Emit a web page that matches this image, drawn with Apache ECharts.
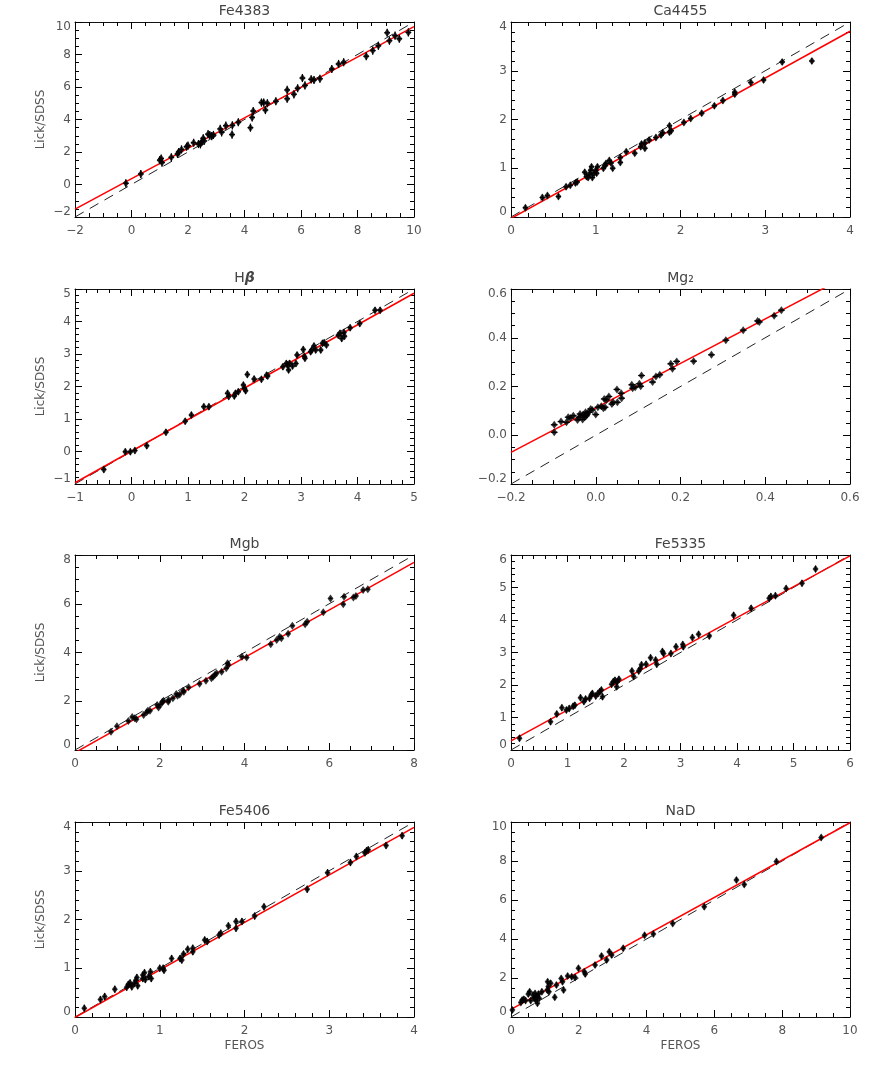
<!DOCTYPE html>
<html>
<head>
<meta charset="utf-8">
<script src="https://cdn.jsdelivr.net/npm/echarts@6/dist/echarts.min.js"></script>
<style>
  html, body { margin: 0; padding: 0; background: #fff; }
  #chart { width: 872px; height: 1065px; }
</style>
</head>
<body>
<div id="chart"></div>
<script>
// panel titles, axis ranges and fitted relations (Lick/SDSS vs FEROS)
const panelNames = ["Fe4383", "Ca4455", "H{b|β}", "Mg₂", "Mgb", "Fe5335", "Fe5406", "NaD"];
const axisMin = [-2, 0, -1, -0.2, 0, 0, 0, 0];
const axisMax = [10, 4, 5, 0.6, 8, 6, 4, 10];
const tickStep = [2, 1, 1, 0.2, 2, 1, 1, 2];
const minorSplit = [4, 5, 5, 4, 4, 5, 5, 4];
const fitIntercept = [0.36, -0.03, 0.01, 0.112, -0.11, 0.28, -0.01, 0.39];
const fitSlope = [0.935, 0.96, 0.972, 0.913, 0.976, 0.949, 0.975, 0.957];
const errX = [0.1, 0.03, 0.04, 0.008, 0.04, 0.03, 0.02, 0.05];
const errY = [0.25, 0.06, 0.1, 0.004, 0.04, 0.1, 0.07, 0.15];

// points: x = FEROS, y = Lick/SDSS
const fe4383X = [-0.2, 0.33, 1.0, 1.05, 1.08, 1.41, 1.63, 1.67, 1.77, 1.95, 2.0, 2.2, 2.37, 2.44, 2.49, 2.54, 2.57, 2.71, 2.77, 2.84, 2.9, 3.14, 3.19, 3.34, 3.56, 3.57, 3.78, 4.21, 4.27, 4.31, 4.6, 4.68, 4.74, 4.81, 5.11, 5.51, 5.51, 5.75, 5.88, 6.05, 6.14, 6.36, 6.46, 6.67, 7.09, 7.33, 7.51, 8.31, 8.54, 8.74, 9.05, 9.13, 9.33, 9.48, 9.8];
const fe4383Y = [0.07, 0.65, 1.5, 1.6, 1.35, 1.67, 1.88, 2.0, 2.16, 2.33, 2.39, 2.57, 2.49, 2.47, 2.64, 2.84, 2.68, 3.1, 3.05, 2.98, 3.05, 3.42, 3.21, 3.62, 3.07, 3.64, 3.83, 3.5, 4.13, 4.52, 5.04, 5.04, 4.58, 5.0, 5.12, 5.82, 5.28, 5.55, 5.92, 6.55, 6.1, 6.47, 6.43, 6.51, 7.11, 7.42, 7.52, 7.89, 8.24, 8.54, 9.34, 8.85, 9.16, 8.97, 9.36];

const ca4455X = [0.17, 0.37, 0.43, 0.56, 0.65, 0.70, 0.76, 0.78, 0.87, 0.89, 0.91, 0.93, 0.94, 0.95, 0.96, 0.98, 1.0, 1.01, 1.02, 1.09, 1.11, 1.12, 1.16, 1.18, 1.2, 1.29, 1.29, 1.36, 1.46, 1.53, 1.54, 1.58, 1.58, 1.63, 1.71, 1.77, 1.79, 1.87, 1.87, 1.89, 2.04, 2.12, 2.25, 2.4, 2.5, 2.64, 2.64, 2.83, 2.98, 3.2, 3.55];
const ca4455Y = [0.19, 0.40, 0.44, 0.42, 0.62, 0.65, 0.70, 0.72, 0.92, 0.83, 0.81, 0.88, 0.96, 1.03, 0.81, 0.9, 0.96, 0.9, 1.03, 1.0, 1.05, 1.1, 1.16, 1.11, 1.0, 1.12, 1.22, 1.34, 1.31, 1.44, 1.5, 1.41, 1.52, 1.58, 1.63, 1.68, 1.73, 1.87, 1.74, 1.77, 1.94, 2.02, 2.13, 2.28, 2.39, 2.52, 2.56, 2.76, 2.81, 3.18, 3.2];

const hbetaX = [-0.49, -0.11, -0.02, 0.06, 0.27, 0.61, 0.95, 1.06, 1.28, 1.37, 1.7, 1.72, 1.82, 1.84, 1.89, 1.98, 2.0, 2.02, 2.05, 2.17, 2.3, 2.39, 2.41, 2.68, 2.74, 2.76, 2.78, 2.8, 2.85, 2.91, 2.93, 3.04, 3.06, 3.07, 3.17, 3.19, 3.23, 3.26, 3.35, 3.38, 3.41, 3.45, 3.66, 3.69, 3.72, 3.76, 3.77, 3.87, 4.04, 4.31, 4.4];
const hbetaY = [-0.55, -0.01, -0.01, 0.03, 0.18, 0.59, 0.93, 1.12, 1.38, 1.38, 1.79, 1.69, 1.71, 1.79, 1.84, 2.05, 1.94, 1.87, 2.37, 2.23, 2.22, 2.35, 2.32, 2.61, 2.71, 2.66, 2.51, 2.71, 2.63, 2.71, 2.97, 3.14, 2.92, 2.87, 3.07, 3.12, 3.25, 3.12, 3.12, 3.33, 3.35, 3.28, 3.58, 3.64, 3.48, 3.66, 3.55, 3.81, 3.94, 4.35, 4.35];

const mg2X = [-0.098, -0.098, -0.082, -0.069, -0.065, -0.06, -0.053, -0.043, -0.039, -0.037, -0.031, -0.03, -0.026, -0.024, -0.022, -0.02, -0.017, -0.012, -0.008, 0.0, 0.005, 0.013, 0.018, 0.022, 0.02, 0.025, 0.031, 0.038, 0.041, 0.05, 0.051, 0.06, 0.061, 0.085, 0.087, 0.093, 0.103, 0.106, 0.108, 0.134, 0.142, 0.151, 0.177, 0.181, 0.191, 0.231, 0.273, 0.307, 0.348, 0.382, 0.386, 0.421, 0.438];
const mg2Y = [0.043, 0.012, 0.056, 0.053, 0.074, 0.071, 0.08, 0.063, 0.074, 0.087, 0.065, 0.084, 0.074, 0.094, 0.08, 0.087, 0.094, 0.108, 0.104, 0.085, 0.115, 0.119, 0.111, 0.115, 0.149, 0.145, 0.159, 0.128, 0.135, 0.188, 0.135, 0.172, 0.152, 0.207, 0.193, 0.197, 0.211, 0.201, 0.245, 0.218, 0.241, 0.248, 0.293, 0.273, 0.303, 0.304, 0.33, 0.39, 0.431, 0.469, 0.465, 0.49, 0.513];

const mgbX = [0.85, 0.99, 1.26, 1.35, 1.41, 1.45, 1.62, 1.69, 1.72, 1.77, 1.94, 1.97, 2.02, 2.06, 2.09, 2.2, 2.21, 2.31, 2.39, 2.42, 2.47, 2.55, 2.57, 2.68, 2.94, 3.09, 3.22, 3.26, 3.3, 3.34, 3.46, 3.57, 3.6, 3.62, 3.94, 4.05, 4.62, 4.76, 4.83, 4.87, 5.03, 5.13, 5.43, 5.48, 5.86, 6.03, 6.33, 6.35, 6.57, 6.63, 6.8, 6.91];
const mgbY = [0.75, 0.97, 1.19, 1.35, 1.3, 1.26, 1.44, 1.55, 1.61, 1.61, 1.85, 1.74, 1.87, 1.98, 2.02, 1.98, 2.05, 2.12, 2.3, 2.23, 2.28, 2.43, 2.39, 2.57, 2.72, 2.84, 2.94, 3.01, 3.08, 3.15, 3.21, 3.35, 3.56, 3.49, 3.83, 3.79, 4.34, 4.51, 4.65, 4.58, 4.77, 5.1, 5.16, 5.26, 5.65, 6.22, 5.98, 6.29, 6.26, 6.32, 6.56, 6.6];

const fe5335X = [0.15, 0.7, 0.81, 0.9, 0.98, 1.03, 1.1, 1.13, 1.23, 1.29, 1.32, 1.39, 1.42, 1.44, 1.5, 1.54, 1.57, 1.6, 1.62, 1.78, 1.81, 1.84, 1.87, 1.88, 1.91, 2.14, 2.17, 2.26, 2.29, 2.31, 2.39, 2.47, 2.56, 2.58, 2.68, 2.7, 2.83, 2.92, 3.04, 3.05, 3.21, 3.32, 3.51, 3.94, 4.25, 4.57, 4.6, 4.68, 4.87, 5.15, 5.39];
const fe5335Y = [0.36, 0.87, 1.11, 1.3, 1.23, 1.28, 1.35, 1.38, 1.61, 1.49, 1.57, 1.59, 1.69, 1.74, 1.66, 1.74, 1.79, 1.85, 1.64, 2.02, 2.1, 2.15, 1.95, 2.1, 2.18, 2.43, 2.26, 2.43, 2.51, 2.62, 2.64, 2.84, 2.77, 2.64, 3.03, 2.97, 2.97, 3.18, 3.25, 3.18, 3.46, 3.56, 3.51, 4.15, 4.36, 4.67, 4.72, 4.75, 4.97, 5.13, 5.57];

const fe5406X = [0.11, 0.3, 0.35, 0.47, 0.61, 0.63, 0.65, 0.67, 0.7, 0.72, 0.73, 0.74, 0.8, 0.8, 0.82, 0.83, 0.87, 0.89, 0.9, 1.0, 1.04, 1.05, 1.14, 1.24, 1.26, 1.28, 1.33, 1.39, 1.39, 1.53, 1.56, 1.7, 1.72, 1.81, 1.9, 1.9, 1.97, 2.12, 2.23, 2.74, 2.98, 3.25, 3.32, 3.42, 3.44, 3.46, 3.67, 3.86];
const fe5406Y = [0.18, 0.36, 0.42, 0.57, 0.61, 0.67, 0.7, 0.62, 0.69, 0.76, 0.81, 0.64, 0.86, 0.79, 0.91, 0.77, 0.83, 0.93, 0.79, 1.0, 1.0, 0.96, 1.2, 1.2, 1.17, 1.29, 1.39, 1.41, 1.34, 1.58, 1.55, 1.68, 1.72, 1.87, 1.96, 1.82, 1.96, 2.07, 2.26, 2.62, 2.96, 3.17, 3.29, 3.37, 3.41, 3.43, 3.52, 3.72];

const nadX = [0.04, 0.29, 0.33, 0.38, 0.43, 0.51, 0.55, 0.58, 0.65, 0.68, 0.71, 0.73, 0.76, 0.78, 0.81, 0.83, 0.91, 1.07, 1.1, 1.12, 1.17, 1.08, 1.29, 1.34, 1.48, 1.52, 1.55, 1.67, 1.79, 1.89, 1.99, 2.16, 2.19, 2.48, 2.67, 2.82, 2.9, 2.97, 3.31, 3.94, 4.2, 4.77, 5.7, 6.65, 6.88, 7.83, 9.15];
const nadY = [0.36, 0.75, 0.87, 0.91, 0.84, 1.18, 1.3, 0.84, 1.13, 0.96, 1.21, 0.87, 1.04, 0.7, 1.18, 0.96, 1.3, 1.38, 1.56, 1.3, 1.73, 1.81, 1.01, 1.64, 1.98, 1.81, 1.38, 2.1, 2.07, 2.03, 2.5, 2.32, 2.2, 2.67, 3.13, 2.92, 3.35, 3.18, 3.52, 4.19, 4.26, 4.8, 5.66, 7.03, 6.8, 7.97, 9.2];

const pointsX = [fe4383X, ca4455X, hbetaX, mg2X, mgbX, fe5335X, fe5406X, nadX];
const pointsY = [fe4383Y, ca4455Y, hbetaY, mg2Y, mgbY, fe5335Y, fe5406Y, nadY];

const fontFamily = '"DejaVu Sans", sans-serif';
const textColor = "#555";
const boxColor = "#111";
const colLeft = [75, 511];
const rowTop = [22, 289, 555, 822];
const boxW = 339;
const boxH = 195;

function labelFormatter(i) {
  return (v) => {
    let s = i === 3 ? (Math.abs(v) < 1e-9 ? 0 : v).toFixed(1) : String(Math.round(v));
    return s.replace("-", "\u2212");
  };
}

function makeAxis(i, pos, withLabels) {
  const axis = {
    type: "value",
    gridIndex: i,
    position: pos,
    min: axisMin[i],
    max: axisMax[i],
    interval: tickStep[i],
    axisLine: { show: true, onZero: false, lineStyle: { color: boxColor, width: 1 } },
    axisTick: { show: true, inside: true, length: 7, lineStyle: { color: "#000", width: 1 } },
    minorTick: { show: true, splitNumber: minorSplit[i], length: 4, lineStyle: { color: "#000", width: 1 } },
    splitLine: { show: false },
    axisLabel: {
      show: withLabels,
      color: textColor,
      fontSize: 12,
      fontFamily: fontFamily,
      margin: 8,
      formatter: labelFormatter(i),
    },
  };
  if (pos === "left") {
    axis.axisLabel.margin = 4;
    axis.axisLabel.lineHeight = 10;
    axis.axisLabel.verticalAlignMaxLabel = "top";
    axis.axisLabel.verticalAlignMinLabel = "bottom";
  }
  return axis;
}

const grids = [];
const xAxes = [];
const yAxes = [];
const titles = [];
const series = [];

for (let i = 0; i < 8; i++) {
  const left = colLeft[i % 2];
  const top = rowTop[Math.floor(i / 2)];
  grids.push({ left: left, top: top, width: boxW, height: boxH });

  const xb = makeAxis(i, "bottom", true);
  if (i >= 6) {
    xb.name = "FEROS";
    xb.nameLocation = "middle";
    xb.nameGap = 23;
    xb.nameTextStyle = { color: textColor, fontSize: 12 };
  }
  const yl = makeAxis(i, "left", true);
  if (i % 2 === 0) {
    yl.name = "Lick/SDSS";
    yl.nameLocation = "middle";
    yl.nameGap = 28;
    yl.nameTextStyle = { color: textColor, fontSize: 12 };
  }
  xAxes.push(xb, makeAxis(i, "top", false));
  yAxes.push(yl, makeAxis(i, "right", false));

  titles.push({
    text: panelNames[i],
    left: left + boxW / 2,
    top: top - 18,
    textAlign: "center",
    padding: 0,
    textStyle: {
      color: "#444",
      fontSize: 14,
      fontWeight: "normal",
      rich: { b: { fontSize: 14, fontStyle: "italic", fontWeight: "bold", color: "#444" } },
    },
  });

  const lo = axisMin[i];
  const hi = axisMax[i];
  const xi = 2 * i;
  const yi = 2 * i;

  // one-to-one line
  series.push({
    type: "line",
    xAxisIndex: xi,
    yAxisIndex: yi,
    data: [[lo, lo], [hi, hi]],
    symbol: "none",
    silent: true,
    clip: true,
    lineStyle: { color: "#222", width: 1, type: [10, 7] },
    z: 2,
  });
  // fitted relation
  series.push({
    type: "line",
    xAxisIndex: xi,
    yAxisIndex: yi,
    data: [[lo, fitIntercept[i] + fitSlope[i] * lo], [hi, fitIntercept[i] + fitSlope[i] * hi]],
    symbol: "none",
    silent: true,
    clip: true,
    lineStyle: { color: "#ff0000", width: 1.5 },
    z: 3,
  });

  const n = Math.min(pointsX[i].length, pointsY[i].length);
  const pts = [];
  for (let k = 0; k < n; k++) pts.push([pointsX[i][k], pointsY[i][k], errX[i], errY[i]]);

  // error bars
  series.push({
    type: "custom",
    coordinateSystem: "cartesian2d",
    xAxisIndex: xi,
    yAxisIndex: yi,
    data: pts,
    encode: { x: 0, y: 1 },
    silent: true,
    z: 4,
    renderItem: (params, api) => {
      const x = api.value(0), y = api.value(1), ex = api.value(2), ey = api.value(3);
      const a = api.coord([x, y - ey]);
      const b = api.coord([x, y + ey]);
      const c = api.coord([x - ex, y]);
      const d = api.coord([x + ex, y]);
      const st = { stroke: "#000", lineWidth: 1.2 };
      return {
        type: "group",
        children: [
          { type: "line", shape: { x1: a[0], y1: a[1], x2: b[0], y2: b[1] }, style: st },
          { type: "line", shape: { x1: c[0], y1: c[1], x2: d[0], y2: d[1] }, style: st },
        ],
      };
    },
  });
  // points
  series.push({
    type: "scatter",
    xAxisIndex: xi,
    yAxisIndex: yi,
    data: pts.map((p) => [p[0], p[1]]),
    symbol: "diamond",
    symbolSize: [6, 8],
    itemStyle: { color: "#000" },
    silent: true,
    z: 5,
  });
}

const myChart = echarts.init(document.getElementById("chart"));
myChart.setOption({
  backgroundColor: "#fff",
  animation: false,
  textStyle: { fontFamily: fontFamily },
  title: titles,
  grid: grids,
  xAxis: xAxes,
  yAxis: yAxes,
  series: series,
});
</script>
</body>
</html>
